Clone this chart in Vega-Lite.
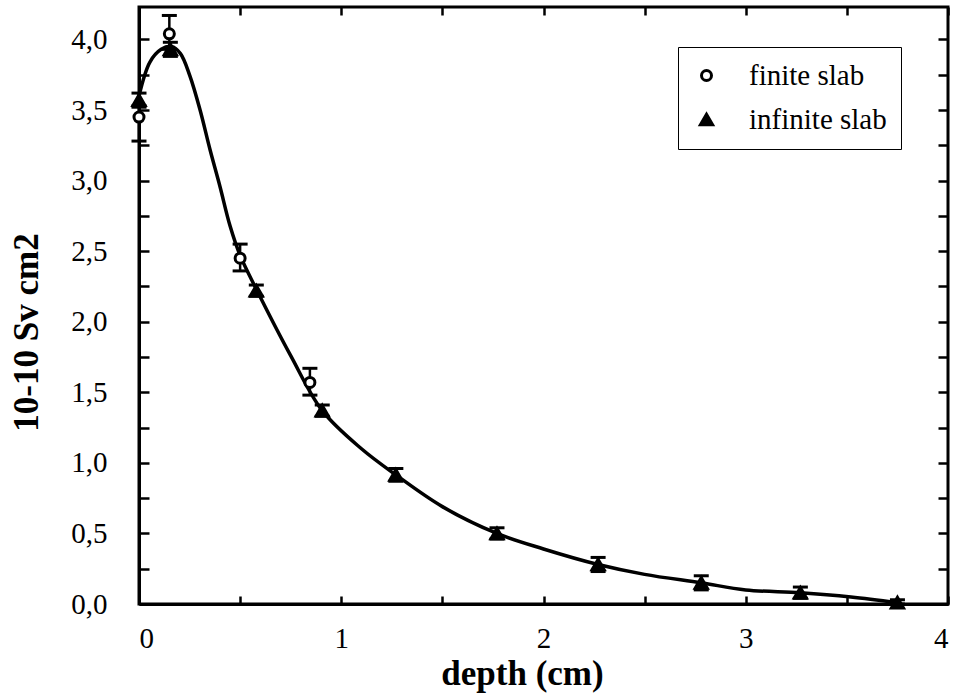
{
  "$schema": "https://vega.github.io/schema/vega-lite/v6.json",
  "width": 809,
  "height": 597,
  "autosize": "none",
  "padding": {"left": 139, "top": 7, "right": 10, "bottom": 93},
  "background": "white",
  "config": {
    "font": "Liberation Serif",
    "view": {"stroke": "black", "strokeWidth": 3},
    "axis": {
      "domainColor": "black", "domainWidth": 3, "tickColor": "black", "tickWidth": 2.5,
      "labelColor": "black", "labelFont": "Liberation Serif", "labelFontSize": 29,
      "titleFont": "Liberation Serif", "titleFontSize": 35, "titleFontWeight": "bold", "titleColor": "black", "grid": false
    },
    "legend": {
      "strokeColor": "black", "fillColor": "white", "padding": 14, "orient": "none", "legendX": 539, "legendY": 40,
      "labelFontSize": 29, "labelFont": "Liberation Serif", "labelColor": "black", "symbolStrokeWidth": 3, "rowPadding": 14, "labelOffset": 28
    }
  },
  "datasets": {
    "curve": [
      {"depth": 0, "value": 3.6}, {"depth": 0.054, "value": 3.84}, {"depth": 0.11, "value": 3.93}, {"depth": 0.16, "value": 3.95},
      {"depth": 0.205, "value": 3.9}, {"depth": 0.252, "value": 3.74}, {"depth": 0.302, "value": 3.5},
      {"depth": 0.351, "value": 3.22}, {"depth": 0.4, "value": 2.96}, {"depth": 0.45, "value": 2.68},
      {"depth": 0.5, "value": 2.47}, {"depth": 0.584, "value": 2.22}, {"depth": 0.75, "value": 1.76},
      {"depth": 0.906, "value": 1.37}, {"depth": 1.1, "value": 1.1}, {"depth": 1.27, "value": 0.915},
      {"depth": 1.5, "value": 0.69}, {"depth": 1.77, "value": 0.5}, {"depth": 2.0, "value": 0.39},
      {"depth": 2.27, "value": 0.28}, {"depth": 2.5, "value": 0.21}, {"depth": 2.78, "value": 0.15},
      {"depth": 3.0, "value": 0.1}, {"depth": 3.27, "value": 0.08}, {"depth": 3.52, "value": 0.05},
      {"depth": 3.75, "value": 0.01}
    ],
    "points": [
      {"series": "finite slab", "depth": 0, "value": 3.45, "lo": 3.28, "hi": 3.53},
      {"series": "finite slab", "depth": 0.15, "value": 4.04, "lo": 3.93, "hi": 4.17},
      {"series": "finite slab", "depth": 0.5, "value": 2.45, "lo": 2.36, "hi": 2.55},
      {"series": "finite slab", "depth": 0.845, "value": 1.57, "lo": 1.48, "hi": 1.67},
      {"series": "infinite slab", "depth": 0, "value": 3.57, "lo": 3.52, "hi": 3.62},
      {"series": "infinite slab", "depth": 0.155, "value": 3.93, "lo": 3.88, "hi": 3.98},
      {"series": "infinite slab", "depth": 0.58, "value": 2.22, "lo": 2.18, "hi": 2.26},
      {"series": "infinite slab", "depth": 0.906, "value": 1.37, "lo": 1.33, "hi": 1.41},
      {"series": "infinite slab", "depth": 1.27, "value": 0.915, "lo": 0.87, "hi": 0.96},
      {"series": "infinite slab", "depth": 1.77, "value": 0.5, "lo": 0.46, "hi": 0.54},
      {"series": "infinite slab", "depth": 2.27, "value": 0.28, "lo": 0.23, "hi": 0.33},
      {"series": "infinite slab", "depth": 2.78, "value": 0.15, "lo": 0.1, "hi": 0.2},
      {"series": "infinite slab", "depth": 3.27, "value": 0.08, "lo": 0.04, "hi": 0.12},
      {"series": "infinite slab", "depth": 3.75, "value": 0.01, "lo": 0.0, "hi": 0.03}
    ]
  },
  "layer": [
    {
      "data": {"name": "curve"},
      "mark": {"type": "line", "color": "black", "strokeWidth": 3.5, "interpolate": "catmull-rom"},
      "encoding": {
        "x": {"field": "depth", "type": "quantitative", "scale": {"domain": [0, 4], "nice": false},
          "axis": {"orient": "bottom", "title": "depth (cm)", "values": [0, 0.5, 1, 1.5, 2, 2.5, 3, 3.5, 4],
            "labelExpr": "datum.value % 1 == 0 ? format(datum.value, 'd') : ''", "tickSize": -8, "labelPadding": 28, "titlePadding": 3, "titleX": 383}},
        "y": {"field": "value", "type": "quantitative", "scale": {"domain": [0, 4.23], "nice": false},
          "axis": {"orient": "left", "title": "10-10 Sv cm2", "values": [0, 0.25, 0.5, 0.75, 1, 1.25, 1.5, 1.75, 2, 2.25, 2.5, 2.75, 3, 3.25, 3.5, 3.75, 4],
            "labelExpr": "(datum.value * 2) % 1 == 0 ? replace(format(datum.value, '.1f'), '.', ',') : ''", "tickSize": -10, "labelPadding": 42, "titlePadding": 26, "titleY": 325}}
      }
    },
    {
      "data": {"name": "points"},
      "mark": {"type": "rule", "color": "black", "strokeWidth": 2.5},
      "encoding": {
        "x": {"field": "depth", "type": "quantitative",
          "axis": {"orient": "top", "title": null, "labels": false, "values": [0, 0.5, 1, 1.5, 2, 2.5, 3, 3.5, 4], "tickSize": -8, "domain": false}},
        "y": {"field": "lo", "type": "quantitative",
          "axis": {"orient": "right", "title": null, "labels": false, "values": [0, 0.25, 0.5, 0.75, 1, 1.25, 1.5, 1.75, 2, 2.25, 2.5, 2.75, 3, 3.25, 3.5, 3.75, 4], "tickSize": -10, "domain": false}},
        "y2": {"field": "hi"}
      }
    },
    {
      "data": {"name": "points"},
      "mark": {"type": "tick", "orient": "horizontal", "color": "black", "size": 15, "thickness": 3, "opacity": 1},
      "encoding": {
        "x": {"field": "depth", "type": "quantitative", "axis": null},
        "y": {"field": "lo", "type": "quantitative", "axis": null}
      }
    },
    {
      "data": {"name": "points"},
      "mark": {"type": "tick", "orient": "horizontal", "color": "black", "size": 15, "thickness": 3, "opacity": 1},
      "encoding": {
        "x": {"field": "depth", "type": "quantitative", "axis": null},
        "y": {"field": "hi", "type": "quantitative", "axis": null}
      }
    },
    {
      "data": {"name": "points"},
      "mark": {"type": "point", "filled": true, "strokeWidth": 3, "opacity": 1},
      "encoding": {
        "x": {"field": "depth", "type": "quantitative", "axis": null},
        "y": {"field": "value", "type": "quantitative", "axis": null},
        "shape": {"field": "series", "type": "nominal", "scale": {"domain": ["finite slab", "infinite slab"], "range": ["circle", "triangle-up"]}, "legend": {"title": null}},
        "size": {"field": "series", "type": "nominal", "scale": {"domain": ["finite slab", "infinite slab"], "range": [100, 150]}, "legend": {"title": null}},
        "fill": {"field": "series", "type": "nominal", "scale": {"domain": ["finite slab", "infinite slab"], "range": ["white", "black"]}, "legend": {"title": null}},
        "stroke": {"field": "series", "type": "nominal", "scale": {"domain": ["finite slab", "infinite slab"], "range": ["black", "black"]}, "legend": {"title": null}}
      }
    }
  ]
}
